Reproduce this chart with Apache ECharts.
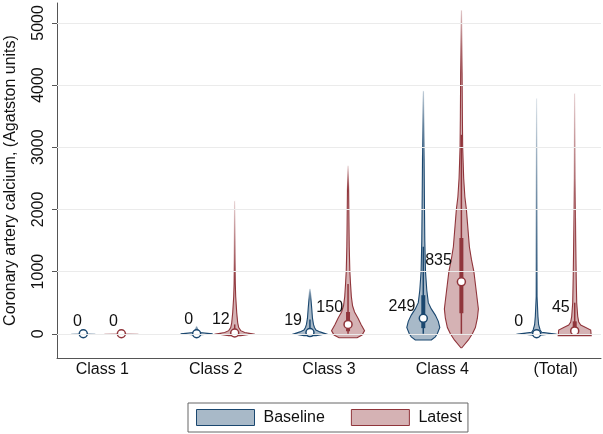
<!DOCTYPE html>
<html>
<head>
<meta charset="utf-8">
<script src="https://cdn.jsdelivr.net/npm/echarts@6/dist/echarts.min.js"></script>
<style>
  html, body { margin: 0; padding: 0; background: #fff; }
  #chart { width: 603px; height: 434px; }
</style>
</head>
<body>
<div id="chart"></div>
<script>
// categories and axis ticks
var classes = ['Class 1', 'Class 2', 'Class 3', 'Class 4', '(Total)'];
var classPos = [1, 2, 3, 4, 5];
var yTicks = [0, 1000, 2000, 3000, 4000, 5000];

// violin outlines: [Agatston value, half width]
var baselineProfiles = [
    [[-8, 0.2], [0, 12], [8, 0.2]],
    [[-20, 2], [0, 16], [20, 3], [50, 1.2], [120, 0.3]],
    [[-30, 6], [0, 16], [30, 10], [60, 6], [100, 4.5], [150, 3.5], [250, 2.5], [400, 1.8], [550, 1], [720, 0.3]],
    [[-100, 8], [-50, 12], [0, 14], [100, 16.5], [200, 15], [300, 12], [400, 8], [500, 5], [700, 3.5],
     [1000, 2.2], [1500, 1.5], [2000, 1.2], [2800, 0.8], [3900, 0.3]],
    [[-25, 3], [0, 16.5], [25, 5], [60, 3.5], [145, 2], [280, 1.3], [600, 0.45], [1200, 0.4], [2500, 0.3], [3780, 0.1]]
];
var latestProfiles = [
    [[-8, 0.2], [0, 17], [8, 0.2]],
    [[-30, 6], [-10, 14], [0, 17.5], [20, 10], [50, 6], [100, 4], [175, 3], [340, 2], [600, 1], [800, 0.6],
     [1200, 0.4], [2130, 0.2]],
    [[-65, 9], [-20, 14], [50, 16.5], [150, 13], [250, 10], [350, 6.5], [450, 4.5], [600, 3.3], [800, 2.5],
     [1000, 1.8], [1400, 1.2], [1800, 0.9], [2300, 0.6], [2700, 0.2]],
    [[-225, 0.5], [-100, 7], [0, 11], [100, 14], [250, 16], [400, 17], [600, 15.5], [800, 14], [1000, 12.5],
     [1200, 10], [1400, 8], [1600, 7], [1800, 6], [2000, 5], [2200, 3.5], [2500, 2.3], [3000, 1.3],
     [3500, 1], [4200, 0.7], [5200, 0.3]],
    [[-30, 16.5], [60, 16], [100, 11], [140, 6], [190, 4], [280, 3], [500, 2], [900, 1.5], [1500, 1],
     [2500, 0.4], [3860, 0.2]]
];

// [lower adjacent, q1, median, q3, upper adjacent]
var baselineBox = [[0, 0, 0, 0, 0], [0, 0, 0, 0, 0], [0, 0, 19, 90, 230], [0, 90, 249, 620, 1400], [0, 0, 0, 10, 25]];
var latestBox = [[0, 0, 0, 0, 0], [0, 0, 12, 60, 150], [0, 40, 150, 350, 800], [0, 330, 835, 1540, 3200], [0, 0, 45, 200, 500]];

var baselineLabels = ['0', '0', '19', '249', '0'];
var latestLabels = ['0', '12', '150', '835', '45'];
// label anchor relative to median marker (px)
var baselineLabelOff = [[-1.5, -12], [-3.5, -14], [-8, -12], [-8, -11.5], [-13.5, -12]];
var latestLabelOff = [[-3.5, -12], [-5, -13], [-5, -17], [-9.5, -21], [-5, -23]];

var FONT = 'Liberation Sans';
var blue = '#1a476f', blueFill = 'rgba(26,71,111,0.38)', blueFaint = 'rgba(26,71,111,0.06)';
var red = '#90353b', redFill = 'rgba(144,53,59,0.38)', redFaint = 'rgba(144,53,59,0.06)';

var chart = echarts.init(document.getElementById('chart'));

function makeRender(profiles, boxes, labels, offs, shift, stroke, fill, faint) {
    return function (params, api) {
        var i = params.dataIndex;
        var cx = api.value(0) + shift;
        var unit = api.size([1, 0])[0] / 113.3;
        var prof = profiles[i];
        var right = [], left = [];
        prof.forEach(function (d) {
            var p = api.coord([cx, d[0]]);
            right.push([p[0] + d[1] * unit, p[1]]);
            left.unshift([p[0] - d[1] * unit, p[1]]);
        });
        var pts = right.concat(left);
        var yBottom = api.coord([cx, prof[0][0]])[1];
        var yTip = api.coord([cx, prof[prof.length - 1][0]])[1];

        // fade the sparse tail
        var j = prof.length - 1;
        while (j > 0 && prof[j][1] < 0.5) j--;
        var strokeStyle = stroke;
        if (j < prof.length - 1) {
            var yLevel = api.coord([cx, prof[j][0]])[1];
            strokeStyle = new echarts.graphic.LinearGradient(0, yTip, 0, yLevel, [
                { offset: 0, color: faint }, { offset: 1, color: stroke }
            ], true);
        }
        var thin = (yBottom - yTip) < 3;

        var b = boxes[i];
        var c0 = api.coord([cx, b[0]]), c1 = api.coord([cx, b[1]]), c2 = api.coord([cx, b[2]]);
        var c3 = api.coord([cx, b[3]]), c4 = api.coord([cx, b[4]]);
        var children = [{
            type: 'polygon',
            shape: { points: pts },
            style: { fill: fill, stroke: strokeStyle, lineWidth: 1.1, opacity: thin ? 0.45 : 1 }
        }];
        if (b[4] > b[0]) {
            children.push({
                type: 'line',
                shape: { x1: c0[0], y1: c0[1], x2: c4[0], y2: c4[1] },
                style: { stroke: stroke, lineWidth: 1.5 }
            });
        }
        if (b[3] > b[1]) {
            children.push({
                type: 'line',
                shape: { x1: c1[0], y1: c1[1], x2: c3[0], y2: c3[1] },
                style: { stroke: stroke, lineWidth: 4 }
            });
        }
        children.push({
            type: 'circle',
            shape: { cx: c2[0], cy: c2[1], r: 4 },
            style: { fill: '#fff', stroke: stroke, lineWidth: 1.5 }
        });
        children.push({
            type: 'text',
            x: c2[0] + offs[i][0],
            y: c2[1] + offs[i][1],
            style: {
                text: labels[i], fill: '#111', fontSize: 16, fontFamily: FONT,
                align: 'right', verticalAlign: 'middle'
            }
        });
        return { type: 'group', children: children };
    };
}

var posData = classPos.map(function (p) { return [p]; });

var option = {
    animation: false,
    grid: { left: 57, right: 2, top: 3, bottom: 76, outerBoundsMode: 'none', containLabel: false },
    legend: {
        left: 188,
        top: 403,
        icon: 'rect',
        itemWidth: 58,
        itemHeight: 16,
        itemGap: 26,
        padding: [6, 6, 6, 8],
        borderColor: '#666',
        borderWidth: 1,
        textStyle: { fontSize: 16, fontFamily: FONT, color: '#111', padding: [0, 0, 0, 4] },
        data: [
            { name: 'Baseline', itemStyle: { color: blueFill, borderColor: blue, borderWidth: 1 } },
            { name: 'Latest', itemStyle: { color: redFill, borderColor: red, borderWidth: 1 } }
        ]
    },
    xAxis: {
        type: 'value',
        min: 0.6,
        max: 5.4,
        axisLine: { show: true, onZero: false, lineStyle: { color: '#555', width: 1 } },
        axisTick: { show: false },
        splitLine: { show: false },
        axisLabel: {
            customValues: classPos,
            margin: 4,
            fontSize: 16,
            fontFamily: FONT,
            color: '#111',
            formatter: function (v) { return classes[Math.round(v) - 1]; }
        }
    },
    yAxis: {
        type: 'value',
        min: -390,
        max: 5320,
        name: 'Coronary artery calcium, (Agatston units)',
        nameLocation: 'middle',
        nameGap: 38,
        nameTextStyle: { fontSize: 16, fontFamily: FONT, color: '#111' },
        axisLine: { show: true, onZero: false, lineStyle: { color: '#555', width: 1 } },
        axisTick: { show: true, customValues: yTicks, length: 5, lineStyle: { color: '#555' } },
        splitLine: { show: false },
        axisLabel: {
            customValues: yTicks,
            rotate: 90,
            margin: 10,
            fontSize: 16,
            fontFamily: FONT,
            color: '#111',
            formatter: function (v) { return String(v); }
        }
    },
    series: [
        {
            type: 'line',
            data: [],
            z: 0,
            silent: true,
            markLine: {
                silent: true,
                symbol: ['none', 'none'],
                label: { show: false },
                lineStyle: { color: '#ebebeb', width: 1, type: 'solid' },
                data: yTicks.map(function (v) { return { yAxis: v }; })
            }
        },
        {
            name: 'Baseline',
            type: 'custom',
            z: 2,
            itemStyle: { color: blueFill, borderColor: blue },
            renderItem: makeRender(baselineProfiles, baselineBox, baselineLabels, baselineLabelOff,
                -0.168, blue, blueFill, blueFaint),
            data: posData
        },
        {
            name: 'Latest',
            type: 'custom',
            z: 2,
            itemStyle: { color: redFill, borderColor: red },
            renderItem: makeRender(latestProfiles, latestBox, latestLabels, latestLabelOff,
                0.168, red, redFill, redFaint),
            data: posData
        }
    ]
};

chart.setOption(option);
</script>
</body>
</html>
